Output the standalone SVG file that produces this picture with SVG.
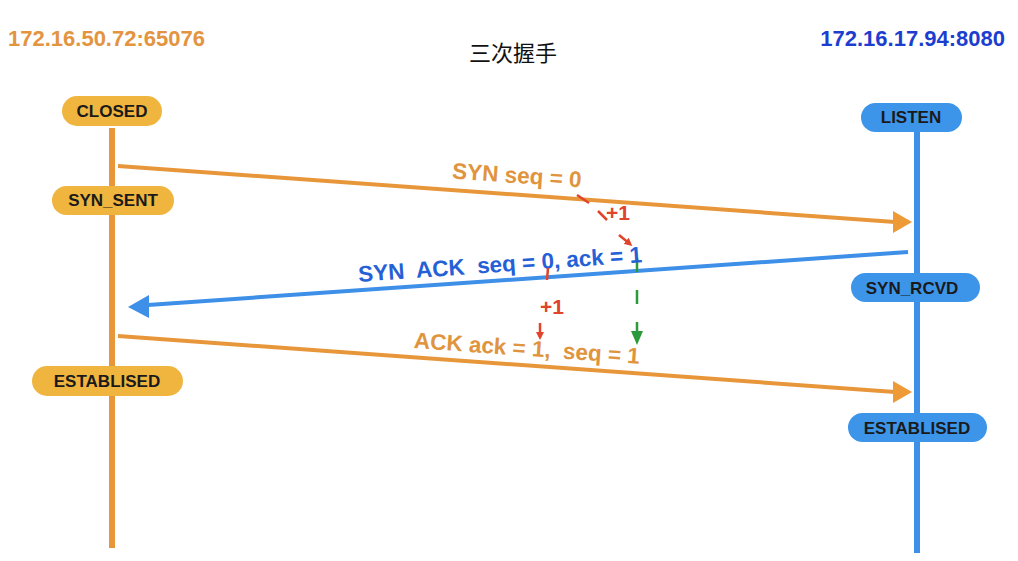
<svg xmlns="http://www.w3.org/2000/svg" width="1018" height="561" viewBox="0 0 1018 561">
<style>
.pill text{font-family:"Liberation Sans",Arial,sans-serif;font-weight:bold;font-size:17px;fill:#1a1a1a;text-anchor:middle}
.po rect{fill:#f0b53e}
.pb rect{fill:#3d95ea}
.lbl{font-family:"Liberation Sans",Arial,sans-serif;font-weight:bold;font-size:22.5px;text-anchor:middle}
.red{stroke:#e0442a;stroke-width:2.5;fill:none}
.redt{font-family:"Liberation Sans",Arial,sans-serif;font-weight:bold;font-size:21px;fill:#e0442a}
</style>
<defs>
<marker id="ar" markerWidth="8" markerHeight="8" refX="5" refY="4" orient="auto" markerUnits="userSpaceOnUse"><path d="M0,0 L8,4 L0,8 Z" fill="#e0442a"/></marker>
<marker id="ag" markerWidth="14" markerHeight="12" refX="3" refY="6" orient="auto" markerUnits="userSpaceOnUse"><path d="M0,0 L14,6 L0,12 Z" fill="#2a9a3a"/></marker>
</defs>
<rect width="1018" height="561" fill="#ffffff"/>
<text x="8" y="46" font-family="Liberation Sans,Arial,sans-serif" font-weight="bold" font-size="22" fill="#e39440">172.16.50.72:65076</text>
<text x="1005" y="46" text-anchor="end" font-family="Liberation Sans,Arial,sans-serif" font-weight="bold" font-size="22" fill="#1c3ed0">172.16.17.94:8080</text>
<text x="513" y="61" text-anchor="middle" font-family="Noto Sans CJK SC,sans-serif" font-size="22" fill="#111">三次握手</text>
<g id="lifelines">
<line x1="112" y1="128" x2="112" y2="548" stroke="#e8963a" stroke-width="6"/>
<line x1="917" y1="130" x2="917" y2="553" stroke="#3d8fe8" stroke-width="6"/>
</g>
<g id="connectors">
<g id="syn">
<path d="M118,166 L895,222" stroke="#e8963a" stroke-width="4" fill="none"/>
<path d="M893,211 L912,222 L893,233 Z" fill="#ee9a36"/>
</g>
<g id="synack">
<path d="M908,252 L148,305" stroke="#3d8fe8" stroke-width="4" fill="none"/>
<path d="M149,295 L128,307 L149,318 Z" fill="#3d8fe8"/>
</g>
<g id="ack">
<path d="M118,336 L895,392" stroke="#e8963a" stroke-width="4" fill="none"/>
<path d="M893,381 L912,392 L893,403 Z" fill="#ee9a36"/>
</g>
<path d="M637,258 V334" stroke="#2a9a3a" stroke-width="2.5" stroke-dasharray="14,18" fill="none" marker-end="url(#ag)"/>
</g>
<text class="lbl" fill="#e0943e" transform="rotate(4 517 175)" x="517" y="183">SYN seq = 0</text>
<text class="lbl" fill="#2560d6" transform="rotate(-4 500 264)" x="500" y="272" xml:space="preserve">SYN  ACK  seq = 0, ack = 1</text>
<text class="lbl" fill="#e0943e" transform="rotate(4 527 348)" x="527" y="356" xml:space="preserve">ACK ack = 1,  seq = 1</text>
<g id="annotations">
<line class="red" x1="577" y1="195" x2="589" y2="203"/>
<line class="red" x1="598" y1="211" x2="607" y2="220"/>
<text class="redt" x="606" y="220">+1</text>
<line class="red" x1="619" y1="235" x2="630" y2="244" marker-end="url(#ar)"/>
<line class="red" x1="548" y1="268" x2="547" y2="280"/>
<text class="redt" x="540" y="314">+1</text>
<line class="red" x1="540" y1="323" x2="540" y2="337" marker-end="url(#ar)"/>
</g>
<g id="closed" class="pill po"><rect x="62" y="96" width="100" height="30" rx="15"/><text x="112" y="117">CLOSED</text></g>
<g id="syn_sent" class="pill po"><rect x="52" y="186" width="122" height="29" rx="14.5"/><text x="113" y="206">SYN_SENT</text></g>
<g id="established_l" class="pill po"><rect x="32" y="366" width="151" height="30" rx="15"/><text x="107" y="387">ESTABLISED</text></g>
<g id="listen" class="pill pb"><rect x="861" y="103" width="101" height="29" rx="14.5"/><text x="911" y="123">LISTEN</text></g>
<g id="syn_rcvd" class="pill pb"><rect x="851" y="273" width="129" height="29" rx="14.5"/><text x="912" y="294">SYN_RCVD</text></g>
<g id="established_r" class="pill pb"><rect x="848" y="413" width="139" height="29" rx="14.5"/><text x="917" y="434">ESTABLISED</text></g>
</svg>
